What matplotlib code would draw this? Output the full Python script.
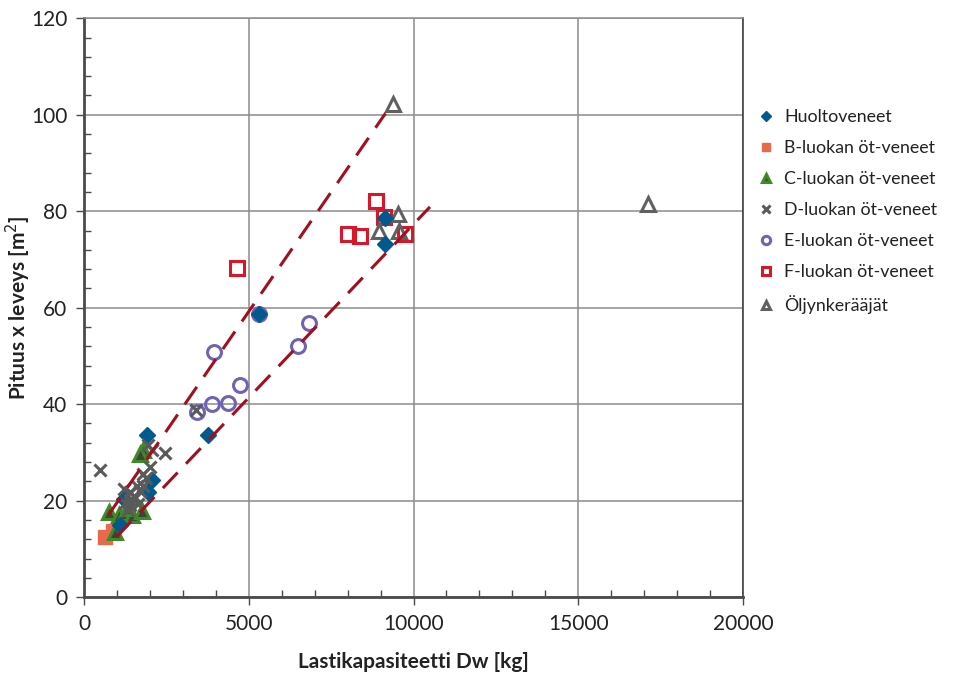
import matplotlib.pyplot as plt
from matplotlib.ticker import MultipleLocator

plt.rcParams['font.family'] = ['Lato', 'DejaVu Sans']

# Huoltoveneet
huolto_x = [1900, 2050, 1950, 1200, 1100, 3770, 5310, 9130, 9150]
huolto_y = [33.7, 24.2, 21.8, 20.3, 14.9, 33.7, 58.6, 78.5, 73.2]
# B-luokan
b_x = [650, 880]
b_y = [12.4, 13.8]
# C-luokan
c_x = [750, 1050, 1250, 1450, 1750, 950, 1800, 1700, 1350]
c_y = [17.6, 17.0, 17.5, 17.0, 17.8, 13.5, 30.4, 29.6, 18.5]
# D-luokan
d_x = [480, 1200, 1400, 1600, 1800, 1880, 2000, 1950, 2060, 2450, 1400, 1400,
       1650, 1350, 1520, 3400, 1780, 1560, 1700, 1250]
d_y = [26.3, 22.5, 21.8, 23.0, 23.0, 24.6, 27.0, 31.5, 30.5, 29.8, 20.1, 19.0,
       19.4, 18.0, 21.0, 38.8, 25.5, 20.5, 22.0, 19.6]
# E-luokan
e_x = [3420, 3900, 4360, 4750, 3950, 5310, 6500, 6840]
e_y = [38.3, 40.1, 40.3, 43.9, 50.8, 58.6, 52.1, 56.9]
# F-luokan
f_x = [4640, 8850, 9110, 8020, 8380, 9740]
f_y = [68.2, 82.1, 78.8, 75.2, 74.8, 75.2]
# Öljynkerääjät
o_x = [9380, 9530, 8950, 9570, 17120]
o_y = [102.3, 79.4, 75.9, 75.9, 81.4]

# katkoviivat (päätepisteet luettu kuvasta)
ylaraja_x = [740, 9150]
ylaraja_y = [17.0, 100.3]
alaraja_x = [990, 10500]
alaraja_y = [12.5, 80.9]

fig = plt.figure(figsize=(9.65, 6.77), dpi=100)
ax = fig.add_axes([0.087, 0.118, 0.683, 0.855])

trend = '#A0101E'
ax.plot(ylaraja_x, ylaraja_y, color=trend, lw=2.2, dashes=(7, 4), zorder=5)
ax.plot(alaraja_x, alaraja_y, color=trend, lw=2.2, dashes=(7, 4), zorder=5)

ax.plot(e_x, e_y, 'o', ms=10, mfc='none', mec='#7062B4', mew=2.2,
        label='E-luokan öt-veneet', zorder=3)
ax.plot(huolto_x, huolto_y, 'D', ms=8.5, color='#005A8E',
        label='Huoltoveneet', zorder=4)
ax.plot(b_x, b_y, 's', ms=10, color='#E86A4C', label='B-luokan öt-veneet', zorder=3)
ax.plot(c_x, c_y, '^', ms=10, mfc='#3c4636', mec='#3E8A26', mew=2.2,
        label='C-luokan öt-veneet', zorder=3)
ax.plot(d_x, d_y, 'x', ms=9, color='#5a5a5a', mew=2.2,
        label='D-luokan öt-veneet', zorder=4)
ax.plot(f_x, f_y, 's', ms=10, mfc='none', mec='#D7182A', mew=2.2,
        label='F-luokan öt-veneet', zorder=3)
ax.plot(o_x, o_y, '^', ms=10, mfc='none', mec='#606060', mew=2.2,
        label='Öljynkerääjät', zorder=3)

ax.set_xlim(0, 20000)
ax.set_ylim(0, 120)
ax.xaxis.set_major_locator(MultipleLocator(5000))
ax.xaxis.set_minor_locator(MultipleLocator(1000))
ax.yaxis.set_major_locator(MultipleLocator(20))
ax.yaxis.set_minor_locator(MultipleLocator(4))
ax.grid(True, which='major', color='#8c8c8c', lw=1.1, zorder=0)
ax.set_axisbelow(True)

for s in ['left', 'bottom']:
    ax.spines[s].set_color('#4a4a4a')
    ax.spines[s].set_linewidth(2)
for s in ['top', 'right']:
    ax.spines[s].set_color('#8c8c8c')
    ax.spines[s].set_linewidth(1.1)
ax.spines['right'].set_color('#333333')

ax.tick_params(which='major', direction='out', length=6, width=1,
               color='#4a4a4a', labelsize=15, labelcolor='#222222', pad=6)
ax.tick_params(which='minor', direction='in', length=5, width=1, color='#4a4a4a')

# akselien otsikot
fig.text(0.428, 0.008, 'Lastikapasiteetti Dw [kg]', fontsize=15, fontweight='bold',
         color='#222222', ha='center', va='bottom')
fig.text(0.019, 0.546, 'Pituus x leveys [m$^2$]', fontsize=15, fontweight='bold',
         color='#222222', ha='center', va='center', rotation=90)

handles, labels = ax.get_legend_handles_labels()
order = ['Huoltoveneet', 'B-luokan öt-veneet', 'C-luokan öt-veneet',
         'D-luokan öt-veneet', 'E-luokan öt-veneet', 'F-luokan öt-veneet',
         'Öljynkerääjät']
hmap = dict(zip(labels, handles))
leg = fig.legend([hmap[k] for k in order], order, loc='upper left',
                 bbox_to_anchor=(0.764, 0.862), frameon=False, fontsize=12.8,
                 markerscale=0.6, handletextpad=0.35, labelspacing=0.84,
                 handlelength=1.4)
for t in leg.get_texts():
    t.set_color('#222222')

fig.savefig('out.png', dpi=100)
